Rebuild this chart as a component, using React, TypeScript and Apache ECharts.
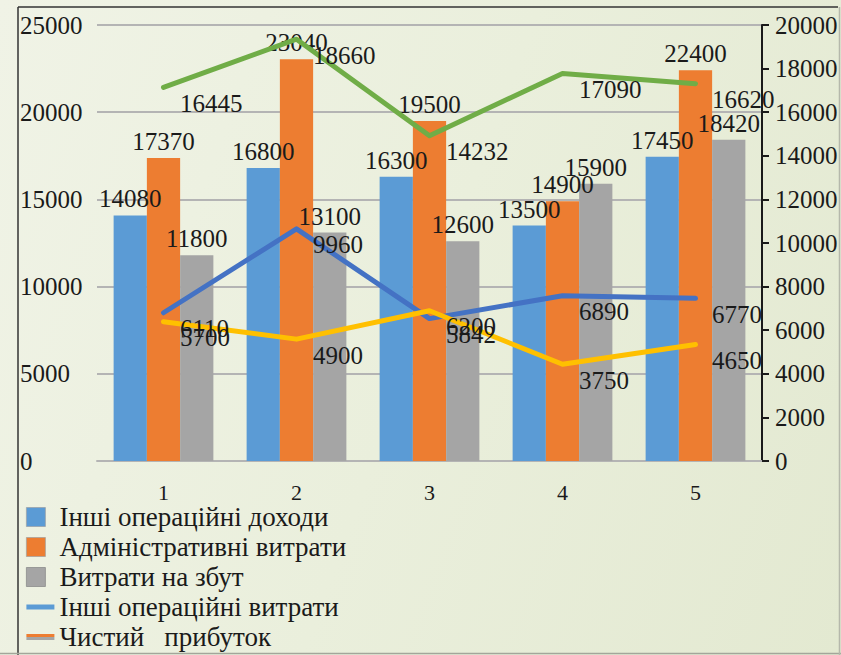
import React, { useEffect, useRef } from "react";
import * as echarts from "echarts";

const categories = ["1", "2", "3", "4", "5"];
const otherOperatingIncome = [14080, 16800, 16300, 13500, 17450];
const adminExpenses = [17370, 23040, 19500, 14900, 22400];
const sellingExpenses = [11800, 13100, 12600, 15900, 18420];
const otherOperatingExpenses = [6110, 9960, 5842, 6890, 6770];
const sixthSeries = [5700, 4900, 6200, 3750, 4650];
const netProfit = [16445, 18660, 14232, 17090, 16620];

const leftAxisMax = 25000;
const leftAxisStep = 5000;
const rightAxisMax = 20000;
const rightAxisStep = 2000;

const names = {
  income: "Інші операційні доходи",
  admin: "Адміністративні витрати",
  selling: "Витрати на збут",
  otherExp: "Інші операційні витрати",
  profit: "Чистий   прибуток",
  sixth: "Ряд 6",
};

const FONT = "Liberation Serif";
const TXT = "#1a1a1a";
const plain = (v: number) => String(v);

export default function App() {
  const ref = useRef<HTMLDivElement>(null);

  useEffect(() => {
    if (!ref.current) return;
    const chart = echarts.init(ref.current, undefined, { renderer: "svg" });

    const barLabel = {
      show: true,
      position: "top",
      distance: 4,
      fontFamily: FONT,
      fontSize: 25,
      color: TXT,
    };
    const lineLabel = {
      show: true,
      position: "right",
      distance: 16,
      offset: [0, 16],
      fontFamily: FONT,
      fontSize: 25,
      color: TXT,
    };
    const mkLine = (name: string, data: number[], color: string) => ({
      name,
      type: "line",
      yAxisIndex: 2,
      data,
      symbol: "circle",
      symbolSize: 1,
      showSymbol: true,
      itemStyle: { color },
      lineStyle: { color, width: 5, cap: "round", join: "round" },
      label: lineLabel,
      z: 5,
    });
    const mkBar = (name: string, data: number[], color: string) => ({
      name,
      type: "bar",
      yAxisIndex: 0,
      data,
      barGap: "0%",
      barCategoryGap: "25%",
      itemStyle: { color },
      label: barLabel,
      z: 2,
    });

    const squareIcon = "path://M0,0H19V19H0ZM28,19";
    const lineIcon = "path://M0,0H28V5H0Z";

    chart.setOption({
      animation: false,
      backgroundColor: "transparent",
      textStyle: { fontFamily: FONT },
      grid: { left: 97, right: 79, top: 25, bottom: 194, containLabel: false },
      legend: {
        show: true,
        orient: "vertical",
        left: 26,
        top: 502,
        padding: 0,
        itemWidth: 28,
        itemHeight: 19,
        itemGap: 0,
        selectedMode: false,
        textStyle: { fontFamily: FONT, fontSize: 27, color: TXT, lineHeight: 30 },
        data: [
          { name: names.income, icon: squareIcon, itemStyle: { color: "#5b9bd5", borderColor: "#9aa3ab", borderWidth: 0.8 } },
          { name: names.admin, icon: squareIcon, itemStyle: { color: "#ed7d31", borderColor: "#a8a29c", borderWidth: 0.8 } },
          { name: names.selling, icon: squareIcon, itemStyle: { color: "#a5a5a5", borderColor: "#8c8c8c", borderWidth: 0.8 } },
          { name: names.otherExp, icon: lineIcon, itemStyle: { color: "#5b9bd5", borderWidth: 0 } },
          {
            name: names.profit,
            icon: "path://M0,0H28V6H0Z",
            itemStyle: {
              borderWidth: 0,
              color: {
                type: "linear",
                x: 0,
                y: 0,
                x2: 0,
                y2: 1,
                colorStops: [
                  { offset: 0, color: "#ed7d31" },
                  { offset: 0.5, color: "#ed7d31" },
                  { offset: 0.5, color: "#a5a5a5" },
                  { offset: 1, color: "#a5a5a5" },
                ],
              },
            },
          },
        ],
      },
      xAxis: {
        type: "category",
        data: categories,
        axisLine: { show: true, lineStyle: { color: "#b4b4b4", width: 2 } },
        axisTick: { show: false },
        axisLabel: { fontFamily: FONT, fontSize: 22, color: TXT, margin: 20 },
      },
      yAxis: [
        {
          type: "value",
          min: 0,
          max: leftAxisMax,
          interval: leftAxisStep,
          axisLine: { show: false },
          axisTick: { show: false },
          splitLine: { show: true, lineStyle: { color: "#b4b4b4", width: 2 } },
          axisLabel: { align: "left", margin: 77, fontFamily: FONT, fontSize: 25, color: TXT, formatter: plain },
        },
        {
          type: "value",
          position: "right",
          min: 0,
          max: rightAxisMax,
          interval: rightAxisStep,
          axisLine: { show: true, lineStyle: { color: "#1a1a1a", width: 2 } },
          axisTick: { show: true, length: 7, lineStyle: { color: "#1a1a1a", width: 2 } },
          splitLine: { show: false },
          axisLabel: { margin: 13, fontFamily: FONT, fontSize: 25, color: TXT, formatter: plain },
        },
        {
          type: "value",
          show: false,
          min: -690,
          max: rightAxisMax - 690,
          splitLine: { show: false },
        },
      ],
      series: [
        mkBar(names.income, otherOperatingIncome, "#5b9bd5"),
        mkBar(names.admin, adminExpenses, "#ed7d31"),
        mkBar(names.selling, sellingExpenses, "#a5a5a5"),
        mkLine(names.otherExp, otherOperatingExpenses, "#4472c4"),
        mkLine(names.sixth, sixthSeries, "#ffc000"),
        mkLine(names.profit, netProfit, "#70ad47"),
      ],
      graphic: [
        { type: "line", shape: { x1: 18, y1: 7, x2: 838, y2: 7 }, style: { stroke: "#333", lineWidth: 1.5 }, silent: true },
        { type: "line", shape: { x1: 18, y1: 7, x2: 18, y2: 655 }, style: { stroke: "#333", lineWidth: 1.5 }, silent: true },
        { type: "line", shape: { x1: 0, y1: 653.5, x2: 841, y2: 653.5 }, style: { stroke: "#a3a69a", lineWidth: 1.5 }, silent: true },
        { type: "line", shape: { x1: 839.5, y1: 7, x2: 839.5, y2: 655 }, style: { stroke: "#b5b8ab", lineWidth: 1.5 }, silent: true },
      ],
    });

    return () => chart.dispose();
  }, []);

  return (
    <div
      style={{
        position: "fixed",
        left: 0,
        top: 0,
        width: 841,
        height: 655,
        background: "linear-gradient(110deg, #f0f3e6 0%, #eaefdc 50%, #e3e9d1 100%)",
      }}
    >
      <div ref={ref} style={{ width: 841, height: 655 }} />
    </div>
  );
}
